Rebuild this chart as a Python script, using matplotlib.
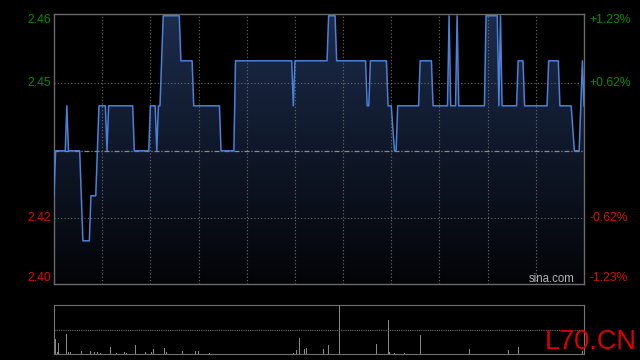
import numpy as np
import matplotlib.pyplot as plt
from matplotlib.colors import LinearSegmentedColormap
from matplotlib.patches import Polygon
from matplotlib.transforms import blended_transform_factory, offset_copy

# intraday price path (minutes after 9:30, price at that minute)
minutes = [0, 1, 7, 8, 9, 16, 18, 22, 23, 26, 28, 32, 33, 34, 49, 50, 59, 60,
           63, 64, 65, 66, 68, 78, 79, 86, 87, 103, 104, 112, 113, 148, 149,
           150, 170, 171, 175, 176, 194, 195, 196, 197, 207, 208, 210, 212,
           213, 214, 227, 228, 235, 236, 245, 246, 247, 250, 251, 252, 268,
           269, 276, 277, 278, 279, 288, 289, 292, 293, 307, 308, 314, 315,
           322, 324, 327, 329, 330]
prices = [2.425, 2.435, 2.435, 2.445, 2.435, 2.435, 2.415, 2.415, 2.425,
          2.425, 2.445, 2.445, 2.435, 2.445, 2.445, 2.435, 2.435, 2.445,
          2.445, 2.435, 2.445, 2.445, 2.465, 2.465, 2.455, 2.455, 2.445,
          2.445, 2.435, 2.435, 2.455, 2.455, 2.445, 2.455, 2.455, 2.465,
          2.465, 2.455, 2.455, 2.445, 2.445, 2.455, 2.455, 2.445, 2.445,
          2.435, 2.435, 2.445, 2.445, 2.455, 2.455, 2.445, 2.445, 2.465,
          2.445, 2.445, 2.465, 2.445, 2.445, 2.465, 2.465, 2.445, 2.465,
          2.445, 2.445, 2.455, 2.455, 2.445, 2.445, 2.455, 2.455, 2.445,
          2.445, 2.435, 2.435, 2.455, 2.445]

# volume bars
vol_minutes = [1, 2, 3, 8, 9, 10, 17, 23, 25, 27, 29, 33, 35, 39, 44, 45, 51,
               57, 61, 62, 66, 69, 70, 80, 88, 90, 97, 149, 151, 153, 156,
               157, 168, 171, 178, 201, 208, 209, 212, 218, 228, 259, 283,
               289, 329]
volumes = [150000, 20000, 110000, 200000, 20000, 20000, 30000, 30000, 20000,
           20000, 10000, 10000, 70000, 10000, 20000, 10000, 90000, 20000,
           20000, 50000, 40000, 60000, 20000, 30000, 30000, 30000, 10000,
           10000, 40000, 160000, 50000, 60000, 50000, 90000, 490000, 100000,
           340000, 20000, 10000, 10000, 190000, 50000, 40000, 70000, 30000]

prev_close = 2.435
y_min, y_max = 2.4054, 2.4654
grid_prices = [2.45, 2.42]
price_labels = ['2.46', '2.45', '2.42', '2.40']
pct_labels = ['+1.23%', '+0.62%', '-0.62%', '-1.23%']
label_prices = [y_max, 2.45, 2.42, y_min]
label_shift = [-6, 0, 0, 6]
label_colors = ['#0a8a0a', '#0a8a0a', '#d01010', '#d01010']

font = 'Liberation Sans'
grid_col = '#6e6e6e'

fig = plt.figure(figsize=(6.4, 3.6), dpi=100, facecolor='black')
ax = fig.add_axes([54 / 640, 1 - 284 / 360, 530 / 640, 270 / 360])
ax.set_facecolor('black')

# gradient fill under the line
cmap = LinearSegmentedColormap.from_list('fill', ['#030407', '#1c2c4c'])
grad = np.linspace(1, 0, 256).reshape(-1, 1)
im = ax.imshow(grad, extent=[0, 330, y_min, y_max], aspect='auto',
               cmap=cmap, origin='upper', zorder=1)
verts = list(zip(minutes, prices)) + [(minutes[-1], y_min), (minutes[0], y_min)]
patch = Polygon(verts, closed=True, facecolor='none', edgecolor='none')
ax.add_patch(patch)
im.set_clip_path(patch)

for m in range(30, 330, 30):
    ax.axvline(m, color=grid_col, lw=0.8, ls=(0, (1, 2)), zorder=2)
for p in grid_prices:
    ax.axhline(p, color=grid_col, lw=0.8, ls=(0, (1, 2)), zorder=2)
ax.axhline(prev_close, color='#8c8c8c', lw=0.9, ls=(0, (4, 1.5, 1, 1.5)), zorder=2)

ax.plot(minutes, prices, color='#4a80d8', lw=1.1, zorder=3)

ax.set_xlim(0, 330)
ax.set_ylim(y_min, y_max)
ax.set_xticks([])
ax.set_yticks([])
for s in ax.spines.values():
    s.set_color('#6a6a6a')
    s.set_linewidth(1)

trans = blended_transform_factory(ax.transAxes, ax.transData)
for lp, lab, pct, col, dy in zip(label_prices, price_labels, pct_labels,
                                 label_colors, label_shift):
    tr = offset_copy(trans, fig=fig, x=0, y=dy, units='dots')
    ax.text(-0.006, lp, lab, transform=tr, ha='right', va='center',
            color=col, fontsize=8.7, family=font)
    ax.text(1.011, lp, pct, transform=tr, ha='left', va='center',
            color=col, fontsize=8.7, family=font)

ax.text(0.983, 0.019, 'sina.com', transform=ax.transAxes, ha='right',
        va='center', color='#b4b4b4', fontsize=8.3, family=font, zorder=4)

# volume panel
vax = fig.add_axes([54 / 640, 1 - 354.3 / 360, 530 / 640, 49.3 / 360])
vax.set_facecolor('black')
vax.bar(vol_minutes, volumes, width=0.6, color='#8a8a8a')
vax.set_xlim(0, 330)
vax.set_ylim(0, max(volumes))
vax.axhline(max(volumes) / 2, color=grid_col, lw=0.8, ls=(0, (1, 1)))
vax.set_xticks([])
vax.set_yticks([])
for side in ['left', 'right']:
    vax.spines[side].set_color('#777777')
for side in ['top', 'bottom']:
    vax.spines[side].set_color(grid_col)
    vax.spines[side].set_linestyle((0, (1, 1)))

fig.text(545 / 640, 1 - 349 / 360, 'L70.CN', ha='left', va='baseline',
         color='#dd0000', fontsize=19.5, family=font)

fig.savefig('out.png', dpi=100, facecolor='black')
